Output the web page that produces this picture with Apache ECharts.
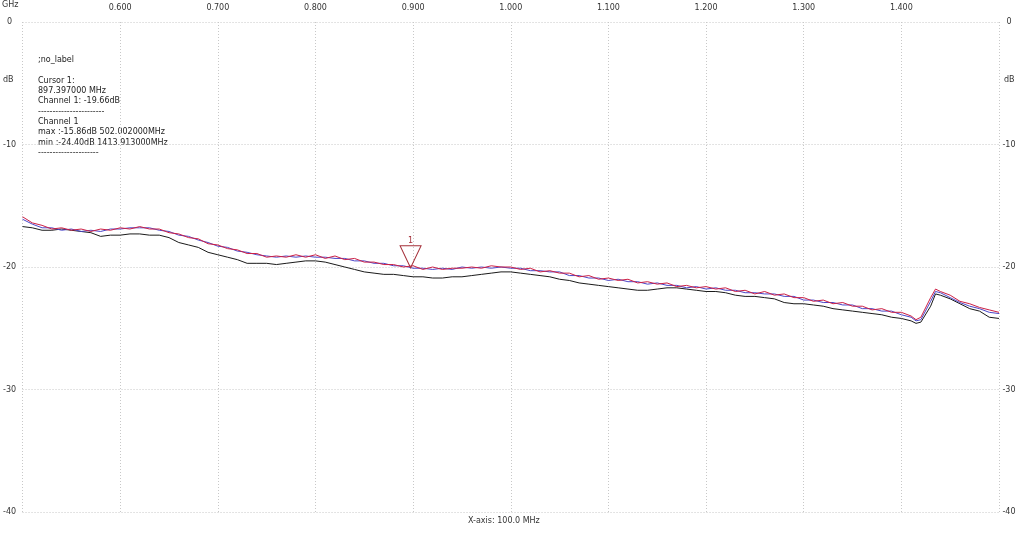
<!DOCTYPE html>
<html>
<head>
<meta charset="utf-8">
<script src="https://cdn.jsdelivr.net/npm/echarts@6/dist/echarts.min.js"></script>
<style>
  html, body { margin: 0; padding: 0; background: #fff; }
  #chart { width: 1024px; height: 536px; }
</style>
</head>
<body>
<div id="chart"></div>
<script>
// frequency in GHz
var freq = [
  0.50, 0.51, 0.52, 0.53, 0.54, 0.55, 0.56, 0.57, 0.58, 0.59,
  0.60, 0.61, 0.62, 0.63, 0.64, 0.65, 0.66, 0.67, 0.68, 0.69,
  0.70, 0.71, 0.72, 0.73, 0.74, 0.75, 0.76, 0.77, 0.78, 0.79,
  0.80, 0.81, 0.82, 0.83, 0.84, 0.85, 0.86, 0.87, 0.88, 0.89,
  0.90, 0.91, 0.92, 0.93, 0.94, 0.95, 0.96, 0.97, 0.98, 0.99,
  1.00, 1.01, 1.02, 1.03, 1.04, 1.05, 1.06, 1.07, 1.08, 1.09,
  1.10, 1.11, 1.12, 1.13, 1.14, 1.15, 1.16, 1.17, 1.18, 1.19,
  1.20, 1.21, 1.22, 1.23, 1.24, 1.25, 1.26, 1.27, 1.28, 1.29,
  1.30, 1.31, 1.32, 1.33, 1.34, 1.35, 1.36, 1.37, 1.38, 1.39,
  1.40, 1.41, 1.415, 1.42, 1.43, 1.435, 1.44, 1.45, 1.46, 1.47,
  1.48, 1.49, 1.50
];

// dB values per trace
var traceRed = [
  -15.9, -16.4, -16.6, -16.9, -16.8, -17.0, -16.9, -17.1, -16.9, -17.0,
  -16.8, -16.9, -16.7, -16.9, -16.9, -17.2, -17.3, -17.6, -17.7, -18.1,
  -18.2, -18.5, -18.6, -18.9, -18.9, -19.2, -19.1, -19.2, -19.0, -19.2,
  -19.0, -19.3, -19.1, -19.4, -19.3, -19.6, -19.6, -19.8, -19.8, -20.0,
  -19.9, -20.2, -20.0, -20.2, -20.1, -20.1, -20.0, -20.1, -19.9, -20.0,
  -20.0, -20.2, -20.1, -20.4, -20.3, -20.5, -20.5, -20.8, -20.7, -21.0,
  -20.9, -21.1, -21.0, -21.3, -21.2, -21.4, -21.3, -21.6, -21.5, -21.7,
  -21.6, -21.8, -21.7, -22.0, -21.9, -22.2, -22.0, -22.3, -22.2, -22.5,
  -22.5, -22.8, -22.7, -23.0, -22.9, -23.2, -23.2, -23.5, -23.4, -23.7,
  -23.7, -24.0, -24.3, -24.1, -22.5, -21.8, -22.0, -22.3, -22.8, -23.0,
  -23.3, -23.5, -23.7
];
var traceBlue = [
  -16.1, -16.5, -16.8, -16.8, -17.0, -16.9, -17.1, -17.0, -17.1, -16.9,
  -16.9, -16.8, -16.8, -16.8, -17.0, -17.1, -17.4, -17.5, -17.8, -18.0,
  -18.3, -18.4, -18.7, -18.8, -19.0, -19.1, -19.2, -19.1, -19.2, -19.1,
  -19.2, -19.2, -19.3, -19.3, -19.5, -19.5, -19.7, -19.7, -19.9, -19.9,
  -20.1, -20.1, -20.2, -20.1, -20.2, -20.0, -20.1, -20.0, -20.1, -20.0,
  -20.1, -20.1, -20.3, -20.3, -20.4, -20.4, -20.7, -20.7, -20.9, -20.9,
  -21.1, -21.0, -21.2, -21.2, -21.4, -21.3, -21.5, -21.5, -21.7, -21.6,
  -21.8, -21.7, -21.9, -21.9, -22.1, -22.1, -22.2, -22.2, -22.4, -22.4,
  -22.7, -22.7, -22.9, -22.9, -23.1, -23.1, -23.4, -23.4, -23.6, -23.6,
  -23.9, -24.1, -24.4, -24.3, -22.8, -22.0, -22.1, -22.5, -22.9, -23.2,
  -23.4, -23.7, -23.8
];
var traceBlack = [
  -16.7, -16.8, -17.0, -17.0, -16.9, -17.0, -17.1, -17.2, -17.5, -17.4,
  -17.4, -17.3, -17.3, -17.4, -17.4, -17.6, -18.0, -18.2, -18.4, -18.8,
  -19.0, -19.2, -19.4, -19.7, -19.7, -19.7, -19.8, -19.7, -19.6, -19.5,
  -19.5, -19.6, -19.8, -20.0, -20.2, -20.4, -20.5, -20.6, -20.6, -20.7,
  -20.8, -20.8, -20.9, -20.9, -20.8, -20.8, -20.7, -20.6, -20.5, -20.4,
  -20.4, -20.5, -20.6, -20.7, -20.8, -21.0, -21.1, -21.3, -21.4, -21.5,
  -21.6, -21.7, -21.8, -21.9, -21.9, -21.8, -21.7, -21.7, -21.8, -21.9,
  -22.0, -22.0, -22.1, -22.3, -22.4, -22.4, -22.5, -22.6, -22.9, -23.0,
  -23.0, -23.1, -23.2, -23.4, -23.5, -23.6, -23.7, -23.8, -23.9, -24.1,
  -24.2, -24.4, -24.6, -24.5, -23.2, -22.2, -22.3, -22.6, -23.0, -23.4,
  -23.6, -24.1, -24.2
];

var cursorFreq = 0.897397;
var cursorDb = -19.66;

var infoLines = [
  ';no_label',
  '',
  'Cursor 1:',
  '897.397000 MHz',
  'Channel 1: -19.66dB',
  '-----------------------',
  'Channel 1',
  'max :-15.86dB 502.002000MHz',
  'min :-24.40dB 1413.913000MHz',
  '---------------------'
];

function pairs(vals) {
  return freq.map(function (f, i) { return [f, vals[i]]; });
}

var textFont = 'Tahoma, "DejaVu Sans", sans-serif';
var labelColor = '#333';

var chart = echarts.init(document.getElementById('chart'), null, { renderer: 'canvas' });

var yAxisCommon = {
  type: 'value',
  min: -40,
  max: 0,
  interval: 10,
  axisLine: { show: false },
  axisTick: { show: false },
  splitLine: { show: true, lineStyle: { color: '#c8c8c8', type: [1, 2], width: 1 } }
};

chart.setOption({
  animation: false,
  backgroundColor: '#fff',
  grid: { left: 21, right: 25, top: 22, bottom: 24, containLabel: false },
  xAxis: {
    type: 'value',
    position: 'top',
    min: 0.5,
    max: 1.5,
    interval: 0.1,
    axisLine: { show: false },
    axisTick: { show: false },
    axisLabel: {
      showMinLabel: false,
      showMaxLabel: false,
      margin: 10,
      fontSize: 8,
      fontFamily: textFont,
      color: labelColor,
      formatter: function (v) { return v.toFixed(3); }
    },
    splitLine: { show: true, lineStyle: { color: '#c8c8c8', type: [1, 2], width: 1 } }
  },
  yAxis: [
    Object.assign({}, yAxisCommon, {
      position: 'left',
      axisLabel: { margin: 13, align: 'center', fontSize: 8, fontFamily: textFont, color: labelColor }
    }),
    Object.assign({}, yAxisCommon, {
      position: 'right',
      splitLine: { show: false },
      axisLabel: { margin: 10, align: 'center', fontSize: 8, fontFamily: textFont, color: labelColor }
    })
  ],
  series: [
    {
      name: 'ch1 ref',
      type: 'line',
      showSymbol: false,
      data: pairs(traceBlack),
      lineStyle: { color: '#1a1a1a', width: 1 },
      silent: true
    },
    {
      name: 'ch1 avg',
      type: 'line',
      showSymbol: false,
      data: pairs(traceBlue),
      lineStyle: { color: '#4b46c8', width: 1 },
      silent: true
    },
    {
      name: 'ch1',
      type: 'line',
      showSymbol: false,
      data: pairs(traceRed),
      lineStyle: { color: '#cc2045', width: 1 },
      silent: true,
      markPoint: {
        silent: true,
        symbol: 'path://M0,0 L20,0 L10,20 Z',
        symbolSize: [21, 22],
        symbolOffset: [0, -6],
        itemStyle: { color: 'rgba(0,0,0,0)', borderColor: '#a5303a', borderWidth: 1 },
        label: {
          show: true,
          position: 'top',
          distance: 0,
          formatter: '1',
          fontSize: 8,
          fontFamily: textFont,
          color: '#a5303a'
        },
        data: [{ coord: [cursorFreq, cursorDb] }]
      }
    }
  ],
  graphic: [
    { type: 'text', left: 2, top: 1, style: { text: 'GHz', font: '8px ' + textFont, fill: labelColor } },
    { type: 'text', left: 3, top: 76, style: { text: 'dB', font: '8px ' + textFont, fill: labelColor } },
    { type: 'text', left: 1004, top: 76, style: { text: 'dB', font: '8px ' + textFont, fill: labelColor } },
    {
      type: 'text', left: 38, top: 55,
      style: { text: infoLines.join('\n'), font: '8px ' + textFont, fill: '#222', lineHeight: 10.3 }
    },
    { type: 'text', left: 468, top: 517, style: { text: 'X-axis: 100.0 MHz', font: '8px ' + textFont, fill: labelColor } }
  ]
});
</script>
</body>
</html>
